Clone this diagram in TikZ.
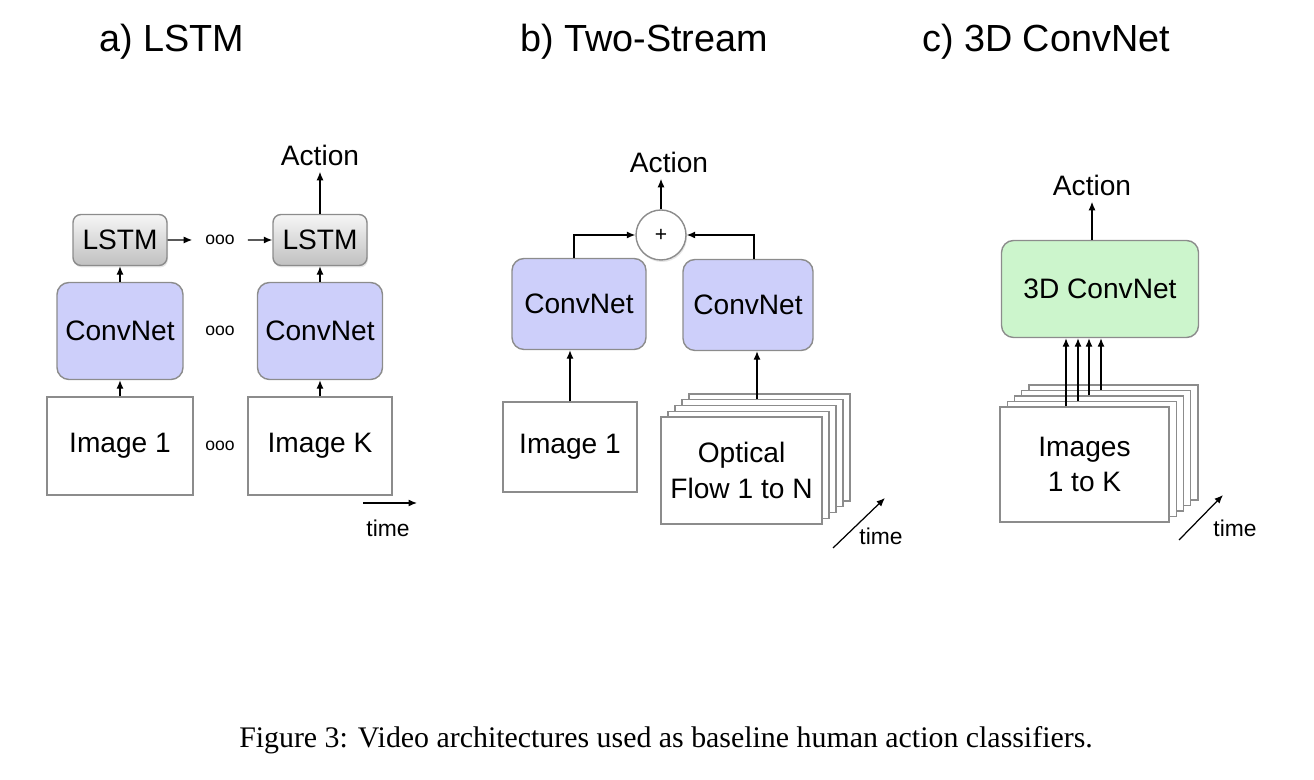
\documentclass[tikz,border=0pt]{standalone}
\usepackage{fontspec}
\setmainfont{Liberation Sans}
\newfontfamily\capfont{Liberation Serif}
\usetikzlibrary{arrows.meta,calc,shadows}
\definecolor{boxgray}{RGB}{140,140,140}
\definecolor{convblue}{RGB}{205,207,250}
\definecolor{greenbox}{RGB}{204,245,204}
\definecolor{lstmtop}{RGB}{246,246,246}
\definecolor{lstmbot}{RGB}{192,192,192}

\begin{document}
\begin{tikzpicture}[>={Latex[length=1.7mm,width=1.4mm]}, line width=0.7pt,
	img/.style = {draw=boxgray, fill=white, line width=0.8pt, inner sep=0pt, align=center, font=\fontsize{16}{20}\selectfont},
	conv/.style = {draw=boxgray, fill=convblue, line width=0.8pt, rounded corners=0.24cm, inner sep=0pt, font=\fontsize{16}{20}\selectfont},
	lstm/.style = {draw=boxgray, top color=lstmtop, bottom color=lstmbot, line width=0.8pt, rounded corners=0.16cm, inner sep=0pt,
		minimum width=1.88cm, minimum height=1.02cm, font=\fontsize{16}{20}\selectfont,
		drop shadow={opacity=0.2, shadow xshift=0.02cm, shadow yshift=-0.04cm}},
	lbl/.style = {font=\fontsize{16}{20}\selectfont},
	title/.style = {font=\fontsize{21.5}{26}\selectfont},
	tlbl/.style = {font=\fontsize{13}{16}\selectfont},
	dots/.style = {font=\fontsize{10}{12}\selectfont, inner xsep=0.25cm}]
	\useasboundingbox (0,0) rectangle (26.28,15.6);

	% titles
	\node[title] (ta) at (3.44,14.76) {a) LSTM};
	\node[title] (tb) at (12.88,14.76) {b) Two-Stream};
	\node[title] (tc) at (20.92,14.76) {c) 3D ConvNet};

	% a) LSTM
	\node[img, minimum width=2.92cm, minimum height=1.96cm] (img1a) at (2.40,6.68) {Image 1};
	\node[img, minimum width=2.88cm, minimum height=1.96cm] (imgKa) at (6.40,6.68) {Image K};
	\node[conv, minimum width=2.52cm, minimum height=1.94cm, node distance=2.30cm] (conv1a) [above of=img1a] {ConvNet};
	\node[conv, minimum width=2.50cm, minimum height=1.94cm, node distance=2.30cm] (convKa) [above of=imgKa] {ConvNet};
	\node[lstm, node distance=1.82cm] (lstm1) [above of=conv1a] {LSTM};
	\node[lstm, node distance=1.82cm] (lstmK) [above of=convKa] {LSTM};
	\node[lbl, node distance=1.70cm] (acta) [above of=lstmK] {Action};
	\node[dots] (dl) at ($(lstm1)!0.5!(lstmK)$) {ooo};
	\node[dots] (dc) at ($(conv1a)!0.5!(convKa)$) {ooo};
	\node[dots] (di) at ($(img1a)!0.5!(imgKa)$) {ooo};
	\coordinate (ta0) at (7.26,5.54);
	\coordinate (ta1) at (8.34,5.54);
	\node[tlbl] (tima) at (7.76,5.04) {time};

	\draw[->] (img1a) -- (conv1a);
	\draw[->] (imgKa) -- (convKa);
	\draw[->] (conv1a) -- (lstm1);
	\draw[->] (convKa) -- (lstmK);
	\draw[->] (lstmK) -- (acta);
	\draw[->] (lstm1) -- (dl);
	\draw[->] (dl) -- (lstmK);
	\draw[->] (ta0) -- (ta1);

	% b) Two-Stream
	\node[img, minimum width=2.68cm, minimum height=1.80cm] (img1b) at (11.40,6.66) {Image 1};
	\node[conv, minimum width=2.68cm, minimum height=1.82cm, node distance=2.86cm, xshift=0.18cm] (conv1b) [above of=img1b] {ConvNet};
	\node[conv, minimum width=2.60cm, minimum height=1.82cm] (conv2b) at (14.96,9.50) {ConvNet};
	\foreach \i in {4,3,2,1}
		\node[img, minimum width=3.22cm, minimum height=2.14cm] (flow\i) at ({14.83+0.14*\i},{6.19+0.115*\i}) {};
	\node[img, minimum width=3.22cm, minimum height=2.14cm] (flow0) at (14.83,6.19) {Optical\\Flow 1 to N};
	\node[draw=boxgray, fill=white, circle, line width=0.8pt, minimum size=1.0cm, inner sep=0pt, font=\fontsize{12}{14}\selectfont,
		drop shadow={opacity=0.2, shadow xshift=0.02cm, shadow yshift=-0.04cm}] (plus) at (13.22,10.90) {+};
	\node[lbl] (actb) at (13.38,12.36) {Action};
	\coordinate (tb0) at (16.66,4.64);
	\coordinate (tb1) at (17.70,5.64);
	\node[tlbl] (timb) at (17.62,4.88) {time};

	\draw[->] (img1b) -- (img1b |- conv1b.south);
	\draw[->] ([xshift=-0.11cm]flow3.north) -- ([xshift=-0.11cm]flow3.north |- conv2b.south);
	\draw[->] ([xshift=-0.1cm]conv1b.north) |- (plus.west);
	\draw[->] ([xshift=0.12cm]conv2b.north) |- (plus.east);
	\draw[->] (plus) -- (plus |- actb.south);
	\draw[->] (tb0) -- (tb1);

	% c) 3D ConvNet
	\node[conv, fill=greenbox, minimum width=3.94cm, minimum height=1.94cm] (conv3d) at (22.00,9.82) {3D ConvNet};
	\node[lbl] (actc) at (21.84,11.90) {Action};
	\foreach \i in {4,3,2,1}
		\node[img, minimum width=3.38cm, minimum height=2.30cm] (imgc\i) at ({21.69+0.145*\i},{6.31+0.11*\i}) {};
	\node[img, minimum width=3.38cm, minimum height=2.30cm] (imgc0) at (21.69,6.31) {Images\\1 to K};
	\coordinate (tc0) at (23.58,4.80);
	\coordinate (tc1) at (24.46,5.70);
	\node[tlbl] (timc) at (24.70,5.04) {time};

	\foreach \i/\x in {0/21.32, 1/21.56, 2/21.78, 3/22.02} {
		\coordinate (x\i) at (\x,0);
		\draw[->] (imgc\i.north -| x\i) -- (conv3d.south -| x\i);
	}
	\draw[->] (actc |- conv3d.north) -- (actc);
	\draw[->] (tc0) -- (tc1);

	% caption
	\node[font=\capfont\fontsize{17}{20}\selectfont] (cap) at (13.32,0.80) {Figure 3: Video architectures used as baseline human action classifiers.};
\end{tikzpicture}
\end{document}
